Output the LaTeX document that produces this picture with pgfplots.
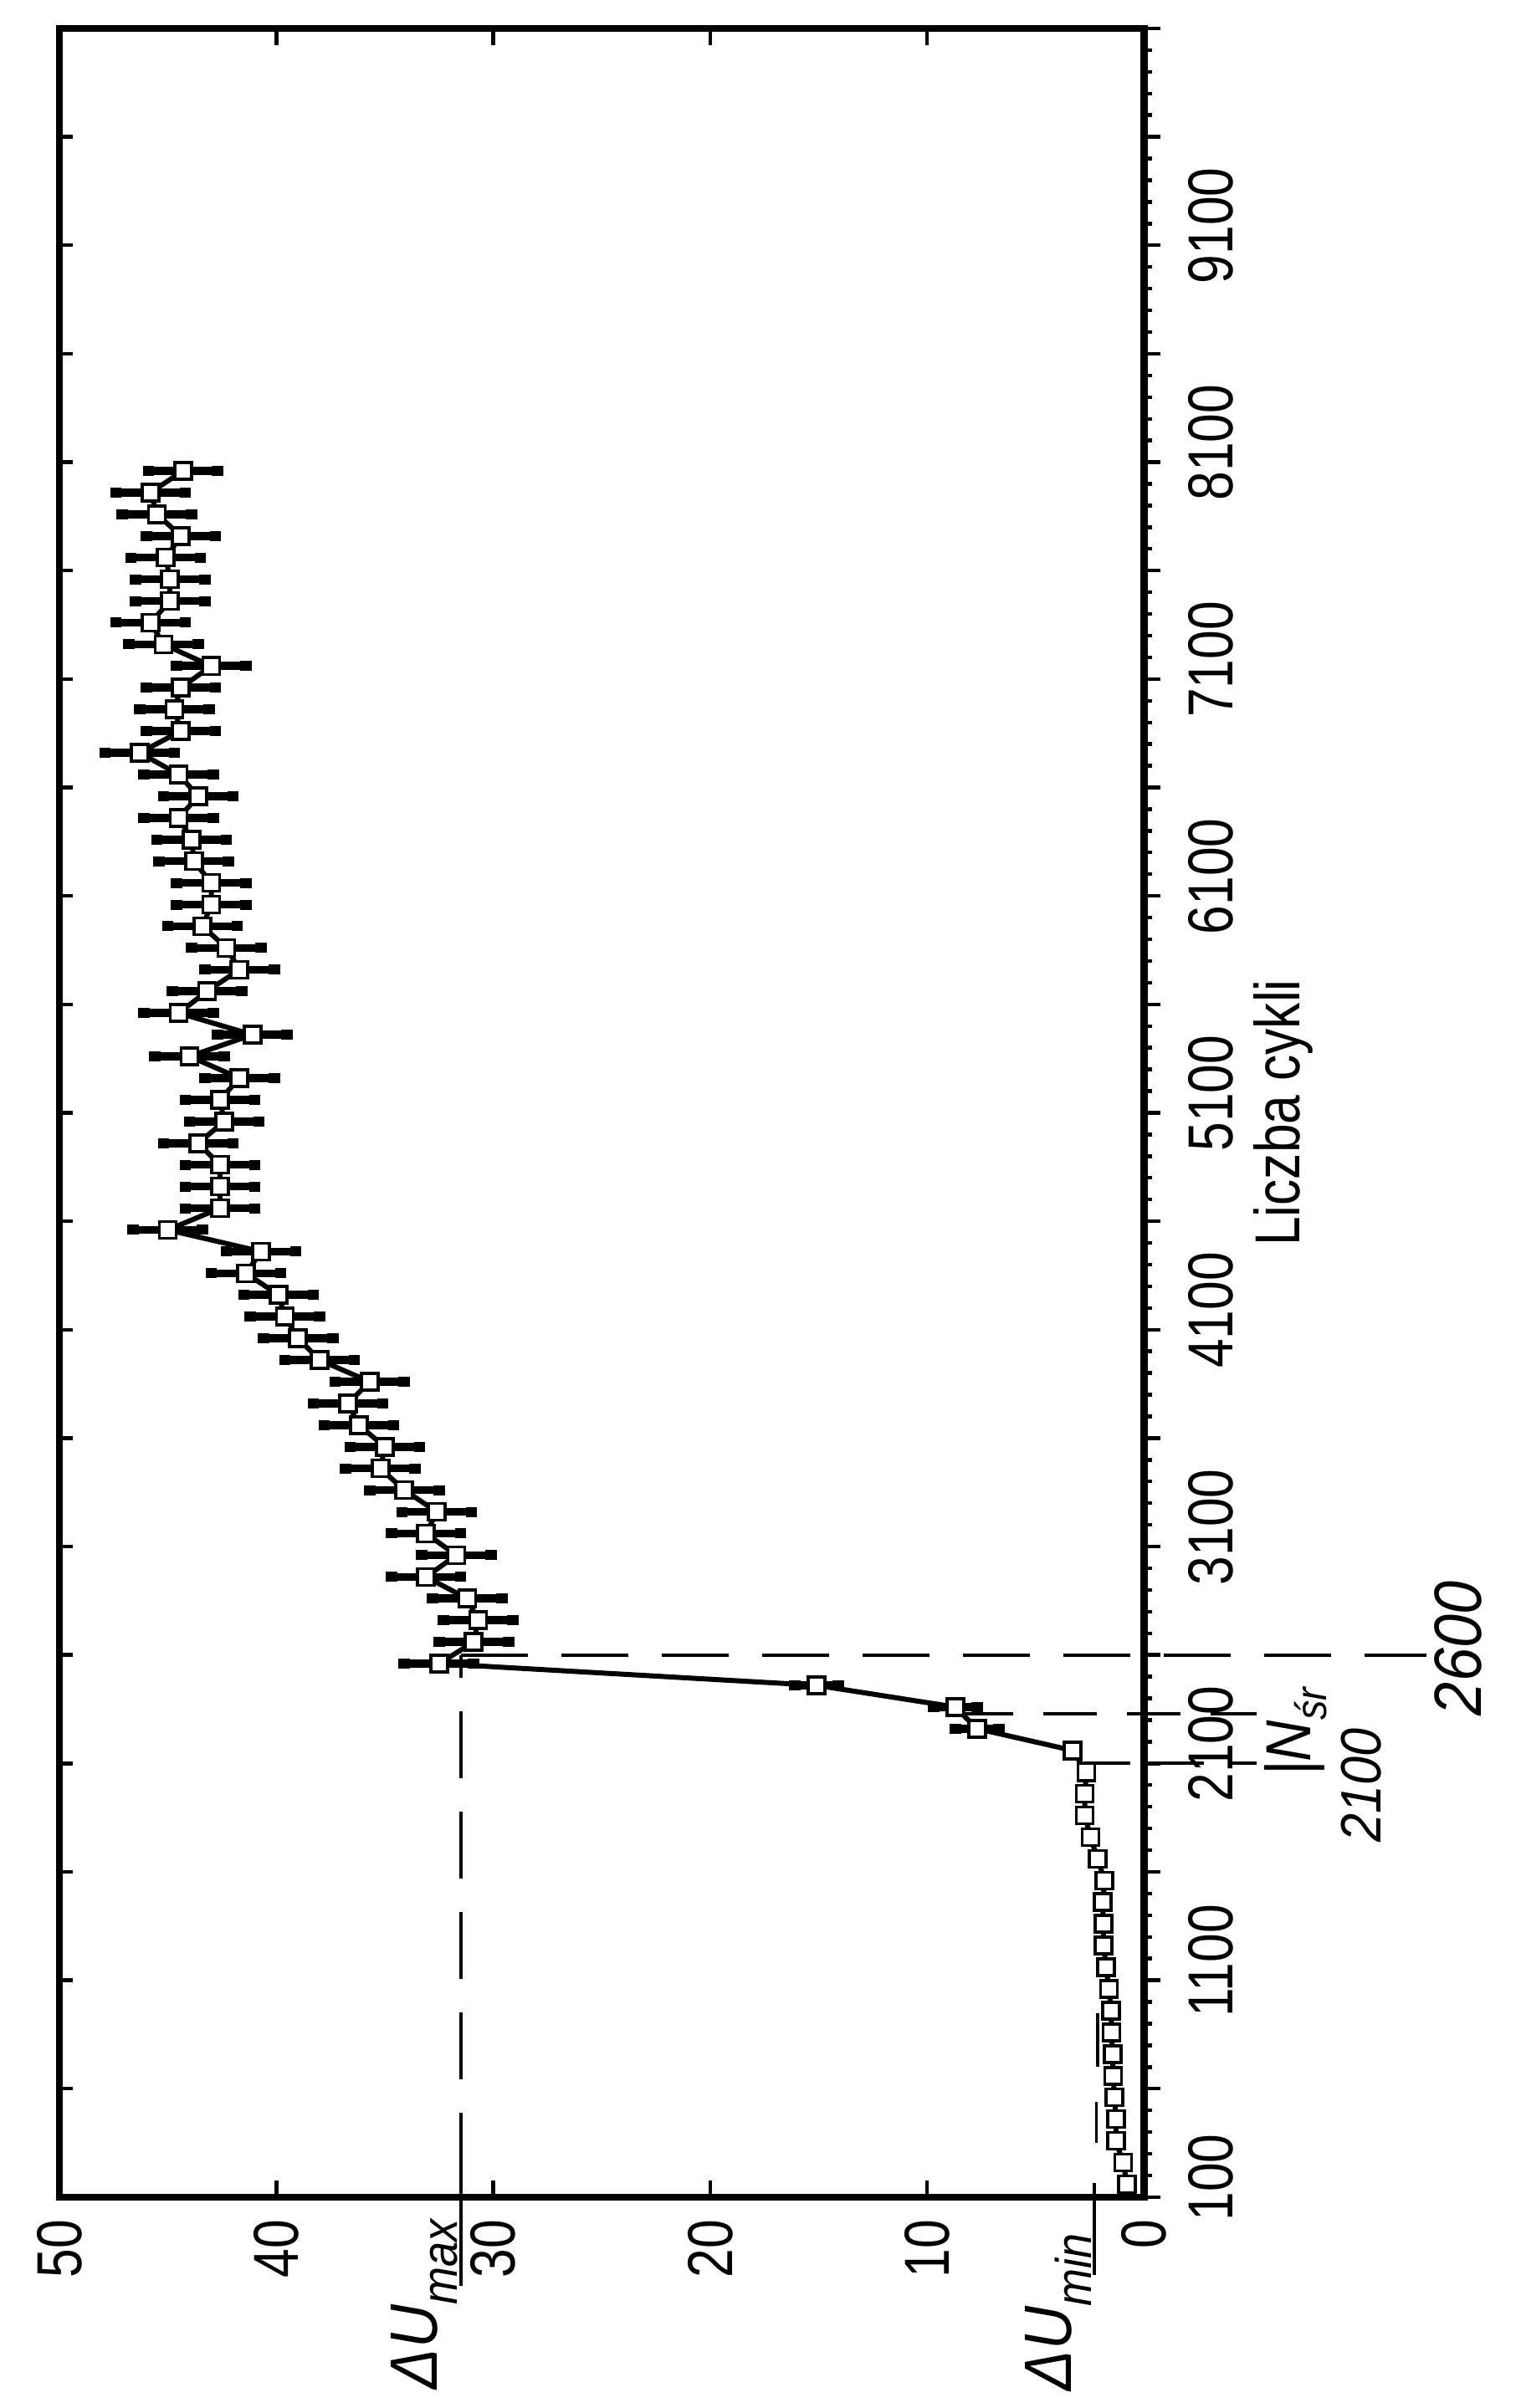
\documentclass[border=0pt]{standalone}
\usepackage{fontspec}
\setmainfont{Liberation Sans}
\newfontfamily\tickfont{Liberation Sans}[FakeStretch=0.82]
\newfontfamily\handfont{Liberation Sans}[FakeStretch=0.9]
\usepackage{pgfplots}
\usepackage{pgfplotstable}
\pgfplotsset{compat=1.18}

\pgfplotstableread{
dU N e
0.78 160 0
0.97 260 0
1.30 360 0
1.30 460 0
1.36 560 0
1.43 660 0
1.45 760 0
1.50 860 0
1.52 960 0
1.62 1060 0
1.75 1160 0
1.86 1260 0
1.88 1360 0
1.90 1460 0
1.82 1560 0
2.14 1660 0
2.47 1760 0
2.73 1860 0
2.73 1960 0
2.66 2060 0
3.30 2160 0
7.70 2260 1.0
8.70 2360 1.0
15.1 2460 1.0
32.5 2560 1.6
30.9 2660 1.6
30.7 2760 1.6
31.2 2860 1.6
33.1 2960 1.6
31.7 3060 1.6
33.1 3160 1.6
32.6 3260 1.6
34.1 3360 1.6
35.2 3460 1.6
35.0 3560 1.6
36.2 3660 1.6
36.7 3760 1.6
35.7 3860 1.6
38.0 3960 1.6
39.0 4060 1.6
39.6 4160 1.6
39.9 4260 1.6
41.4 4360 1.6
40.7 4460 1.6
45.0 4560 1.6
42.6 4660 1.6
42.6 4760 1.6
42.6 4860 1.6
43.6 4960 1.6
42.4 5060 1.6
42.6 5160 1.6
41.7 5260 1.6
44.0 5360 1.6
41.1 5460 1.6
44.5 5560 1.6
43.2 5660 1.6
41.7 5760 1.6
42.3 5860 1.6
43.4 5960 1.6
43.0 6060 1.6
43.0 6160 1.6
43.8 6260 1.6
43.9 6360 1.6
44.5 6460 1.6
43.6 6560 1.6
44.5 6660 1.6
46.3 6760 1.6
44.4 6860 1.6
44.7 6960 1.6
44.4 7060 1.6
43.0 7160 1.6
45.2 7260 1.6
45.8 7360 1.6
44.9 7460 1.6
44.9 7560 1.6
45.1 7660 1.6
44.4 7760 1.6
45.5 7860 1.6
45.8 7960 1.6
44.3 8060 1.6
}\data

\begin{document}
\begin{tikzpicture}
\begin{axis}[
  name=ax,
  scale only axis,
  width=324pt, height=648pt,
  x dir=reverse,
  xmin=0, xmax=50, ymin=100, ymax=10100,
  clip=false,
  scaled x ticks=false, scaled y ticks=false,
  axis line style={line width=2.2pt},
  tick style={line width=1.1pt, black},
  major tick length=5pt, minor tick length=2.4pt,
  xtick align=inside, ytick align=outside,
  xtick={0,10,...,50}, xtick pos=both, xticklabel pos=lower,
  xticklabel style={rotate=90, anchor=east, inner sep=0pt},
  xticklabel shift=6.5pt,
  ytick={100,600,...,10100}, yticklabels={},
  minor ytick={100,200,...,10100},
  ytick pos=right, yticklabel pos=right,
  extra y ticks={190,1190,2190,3190,4190,5190,6190,7190,8190,9190},
  extra y tick labels={100,1100,2100,3100,4100,5100,6100,7100,8100,9100},
  extra y tick style={tick style={draw=none}},
  yticklabel style={rotate=90, anchor=north, inner sep=0pt},
  yticklabel shift=8pt,
  tick label style={font=\tickfont\fontsize{19}{20}\selectfont},
  /pgf/number format/assume math mode=true,
]
% error bars
\addplot[draw=none, mark=none, restrict y to domain=2200:9000,
  error bars/.cd, x dir=both, x explicit,
  error bar style={draw=black, line width=2.4pt},
  error mark options={draw=black, line width=3pt, mark size=1.7pt}]
  table[x=dU, y=N, x error=e]{\data};
% line + squares
\addplot[black, line width=1.5pt, mark=square*, mark size=2.5pt,
  mark options={fill=white, draw=black, line width=0.9pt, solid}]
  table[x=dU, y=N]{\data};

% left-side inward ticks
\pgfplotsinvokeforeach{600,1100,1600,2100,2600,3100,3600,4100,4600,5100,5600,6100,6600,7100,7600,8100,8600,9100,9600}{
  \draw[line width=1.1pt] (axis cs:50,#1) -- ++(4pt,0pt);
}

% hand annotations
\draw[line width=1pt] (axis cs:31.5,-310) -- (axis cs:31.5,180);
\draw[line width=1pt, dash pattern=on 20pt off 10pt] (axis cs:31.5,180) -- (axis cs:31.5,2600);
\draw[line width=1pt, dash pattern=on 20pt off 10pt] (axis cs:31.5,2600) -- (axis cs:-13,2600);
\draw[line width=1pt, dash pattern=on 16pt off 9pt] (axis cs:8.5,2330) -- (axis cs:-5.2,2330);
\draw[line width=1pt, dash pattern=on 14pt off 8pt] (axis cs:2.8,2100) -- (axis cs:-5.2,2100);
\draw[line width=1pt] (axis cs:2.3,165) -- (axis cs:2.3,-260);
\draw[line width=0.9pt] (axis cs:2.2,350) -- (axis cs:2.2,540);
\draw[line width=0.9pt] (axis cs:2.15,700) -- (axis cs:2.15,950);

\node[rotate=90, inner sep=0pt, font=\handfont\itshape\fontsize{20}{22}\selectfont] at (axis cs:-14.5,2630) {2600};
\node[rotate=90, inner sep=0pt, font=\handfont\itshape\fontsize{17}{19}\selectfont] at (axis cs:-10,2000) {2100};
\node[rotate=90, inner sep=0pt, font=\handfont\itshape\fontsize{19}{21}\selectfont] at (axis cs:-7,2245) {|N\raisebox{-0.25em}{\fontsize{13}{13}\selectfont śr}};
\node[rotate=90, anchor=south east, inner sep=0pt, font=\handfont\itshape\fontsize{20}{22}\selectfont] at (axis cs:31.6,0) {ΔU\raisebox{-0.3em}{\fontsize{15}{15}\selectfont max}};
\node[rotate=90, anchor=south east, inner sep=0pt, font=\handfont\itshape\fontsize{20}{22}\selectfont] at (axis cs:2.4,-66) {ΔU\raisebox{-0.3em}{\fontsize{15}{15}\selectfont min}};

\node[rotate=90, anchor=north, inner sep=0pt, font=\tickfont\fontsize{19}{20}\selectfont] at (axis description cs:1.1003,0.5) {Liczba cykli};
\end{axis}
\pgfresetboundingbox
\path ([xshift=-17.75pt,yshift=-63pt]ax.south west) rectangle ([xshift=112.5pt,yshift=8.5pt]ax.north east);
\end{tikzpicture}
\end{document}
